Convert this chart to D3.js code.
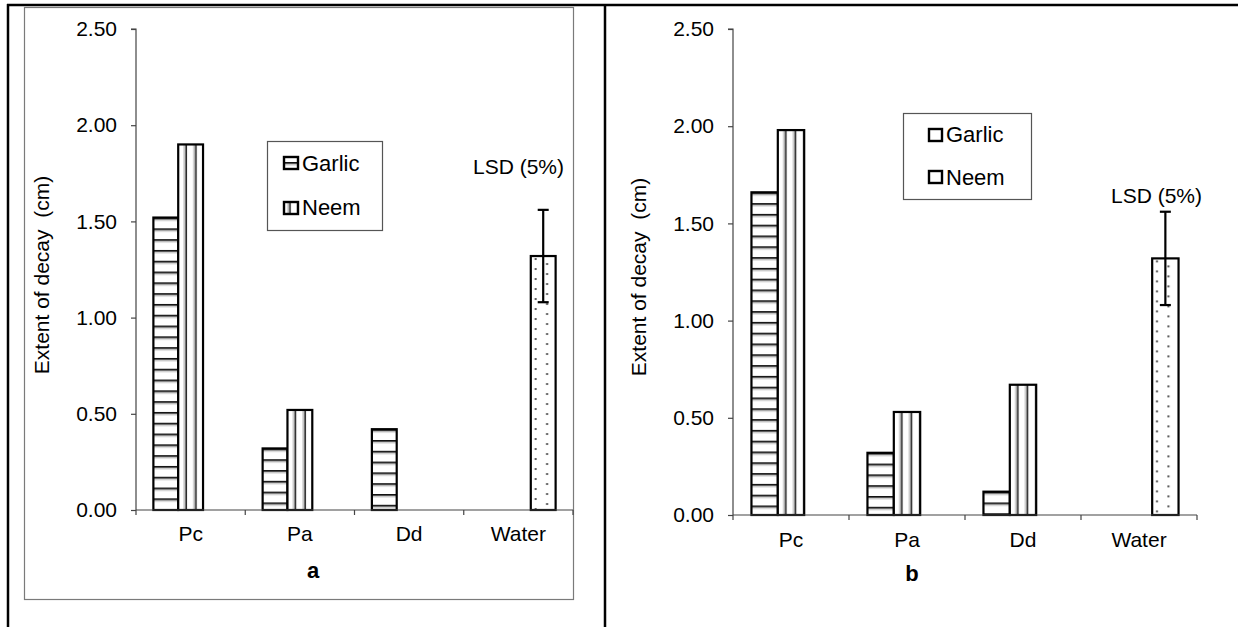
<!DOCTYPE html>
<html>
<head>
<meta charset="utf-8">
<script src="https://cdn.jsdelivr.net/npm/d3@7/dist/d3.min.js"></script>
<style>
  html, body { margin: 0; padding: 0; background: #fff; }
  svg { display: block; }
  text { font-family: "Liberation Sans", Arial, sans-serif; fill: #000; }
</style>
</head>
<body>
<svg id="chart" width="1238" height="627"></svg>
<script>
// ---------- data ----------
const categories = ["Pc", "Pa", "Dd", "Water"];
const seriesNames = ["Garlic", "Neem", "Water"];
const legendNames = ["Garlic", "Neem"];
const yTicks = [0, 0.5, 1.0, 1.5, 2.0, 2.5];

const garlicA = [1.52, 0.32, 0.42, null];
const neemA   = [1.90, 0.52, null, null];
const waterA  = [null, null, null, 1.32];
const lsdA = 0.24;

const garlicB = [1.66, 0.32, 0.12, null];
const neemB   = [1.98, 0.53, 0.67, null];
const waterB  = [null, null, null, 1.32];
const lsdB = 0.24;

const panelLabels = ["a", "b"];
const yTitle = "Extent of decay  (cm)";
const lsdLabel = "LSD (5%)";

// ---------- layout ----------
const panels = [
  { id: "a", series: [garlicA, neemA, waterA], lsd: lsdA, label: panelLabels[0],
    x0: 136, x1: 573, y0: 510, y1: 29, yTitleX: 41.5, yTitleY: 275,
    catDy: 31, labelX: 313, labelY: 578, lsdX: 473, lsdY: 174,
    frame: { x: 24, y: 7, w: 549, h: 592 },
    legend: { x: 267, y: 141, w: 115, h: 89, mx: 284, my: [157, 202], mw: 14, mh: 12, tx: 302, ty: [171, 215], hatch: true } },
  { id: "b", series: [garlicB, neemB, waterB], lsd: lsdB, label: panelLabels[1],
    x0: 733, x1: 1197, y0: 515, y1: 29, yTitleX: 638, yTitleY: 277,
    catDy: 32, labelX: 912, labelY: 581, lsdX: 1111, lsdY: 203,
    frame: null,
    legend: { x: 903, y: 113, w: 128, h: 86, mx: 929, my: [129, 171], mw: 13, mh: 12, tx: 946, ty: [142, 185], hatch: false } }
];

const svg = d3.select("#chart");
const defs = svg.append("defs");

function makePattern(id, kind, x, y) {
  const p = defs.append("pattern").attr("id", id).attr("patternUnits", "userSpaceOnUse");
  if (kind === "h") {
    p.attr("x", x).attr("y", y).attr("width", 10).attr("height", 10.8);
    p.append("rect").attr("width", 10).attr("height", 10.8).attr("fill", "#fff");
    p.append("rect").attr("y", 0).attr("width", 10).attr("height", 1.8).attr("fill", "#111");
    p.append("rect").attr("y", 1.8).attr("width", 10).attr("height", 1.6).attr("fill", "#c8c8c8");
  } else if (kind === "v") {
    p.attr("x", x).attr("y", y).attr("width", 9.7).attr("height", 10);
    p.append("rect").attr("width", 9.7).attr("height", 10).attr("fill", "#fff");
    p.append("rect").attr("x", 5.2).attr("width", 2).attr("height", 10).attr("fill", "#c8c8c8");
    p.append("rect").attr("x", 7.2).attr("width", 1.6).attr("height", 10).attr("fill", "#222");
  } else {
    p.attr("x", x).attr("y", y).attr("width", 23).attr("height", 10);
    p.append("rect").attr("width", 23).attr("height", 10).attr("fill", "#fff");
    p.append("rect").attr("x", 3.8).attr("y", 2).attr("width", 2).attr("height", 2).attr("fill", "#555");
    p.append("rect").attr("x", 15.3).attr("y", 7).attr("width", 2).attr("height", 2).attr("fill", "#555");
  }
  return `url(#${id})`;
}
const kinds = ["h", "v", "d"];

// ---------- outer table borders ----------
const border = svg.append("g").attr("stroke", "#000").attr("stroke-width", 2.5);
border.append("line").attr("x1", 7).attr("x2", 1238).attr("y1", 5).attr("y2", 5);
border.append("line").attr("x1", 8).attr("x2", 8).attr("y1", 4).attr("y2", 627);
border.append("line").attr("x1", 605).attr("x2", 605).attr("y1", 4).attr("y2", 627);

panels.forEach(P => {
  const g = svg.append("g");
  if (P.frame) {
    g.append("rect").attr("x", P.frame.x + 0.5).attr("y", P.frame.y + 0.5)
      .attr("width", P.frame.w).attr("height", P.frame.h)
      .attr("fill", "none").attr("stroke", "#7a7a7a").attr("stroke-width", 1.2);
  }

  const x = d3.scaleBand().domain(categories).range([P.x0, P.x1]).paddingInner(0).paddingOuter(0);
  const xs = d3.scaleBand().domain(seriesNames).range([0, x.bandwidth()]).paddingInner(0).paddingOuter(0.7);
  const y = d3.scaleLinear().domain([0, 2.5]).range([P.y0, P.y1]);

  // bars
  P.series.forEach((vals, si) => {
    vals.forEach((v, ci) => {
      if (v === null) return;
      const bx = x(categories[ci]) + xs(seriesNames[si]);
      const by = y(v);
      const fill = makePattern(`p-${P.id}-${si}-${ci}`, kinds[si], bx, by);
      g.append("rect")
        .attr("x", bx).attr("y", by)
        .attr("width", xs.bandwidth()).attr("height", y(0) - by)
        .attr("fill", fill).attr("stroke", "#000").attr("stroke-width", 2.2);
    });
  });

  // y axis
  const yAxis = d3.axisLeft(y).tickValues(yTicks).tickFormat(d3.format(".2f")).tickSize(5).tickPadding(14);
  const ya = g.append("g").attr("transform", `translate(${P.x0},0)`).call(yAxis);
  ya.select(".domain").attr("stroke", "#444").attr("stroke-width", 1.2).attr("d", `M-5,${y(2.5)}H0V${y(0)}`);
  ya.selectAll(".tick line").attr("stroke", "#444").attr("stroke-width", 1.2);
  ya.selectAll(".tick text").attr("font-size", 21).attr("font-family", "'Liberation Sans', Arial, sans-serif").attr("fill", "#000");

  // x axis
  const xAxis = d3.axisBottom(x).tickSize(0).tickPadding(P.catDy - 15);
  const xa = g.append("g").attr("transform", `translate(0,${P.y0})`).call(xAxis);
  xa.select(".domain").attr("stroke", "#444").attr("stroke-width", 1.2).attr("d", `M${P.x0},0H${P.x1}`);
  xa.selectAll(".tick text").attr("font-size", 21).attr("font-family", "'Liberation Sans', Arial, sans-serif").attr("fill", "#000");
  const bounds = categories.map(c => x(c)).concat([x(categories[categories.length - 1]) + x.bandwidth()]);
  xa.selectAll(".sep").data(bounds).join("line").attr("class", "sep")
    .attr("x1", d => d).attr("x2", d => d).attr("y1", 0).attr("y2", 5)
    .attr("stroke", "#444").attr("stroke-width", 1.2);

  // error bar (LSD) on water bar
  const wIdx = categories.indexOf("Water");
  const wVal = P.series[2][wIdx];
  const cx = x("Water") + xs("Water") + xs.bandwidth() / 2;
  const eb = g.append("g").attr("stroke", "#000").attr("stroke-width", 2.2);
  eb.append("line").attr("x1", cx).attr("x2", cx).attr("y1", y(wVal + P.lsd)).attr("y2", y(wVal - P.lsd));
  eb.append("line").attr("x1", cx - 5.5).attr("x2", cx + 5.5).attr("y1", y(wVal + P.lsd)).attr("y2", y(wVal + P.lsd));
  eb.append("line").attr("x1", cx - 5.5).attr("x2", cx + 5.5).attr("y1", y(wVal - P.lsd)).attr("y2", y(wVal - P.lsd));

  g.append("text").attr("x", P.lsdX).attr("y", P.lsdY).attr("font-size", 21).text(lsdLabel);

  // y title
  g.append("text")
    .attr("transform", `translate(${P.yTitleX},${P.yTitleY}) rotate(-90)`)
    .attr("text-anchor", "middle").attr("dominant-baseline", "central")
    .attr("font-size", 21).attr("xml:space", "preserve").style("white-space", "pre")
    .text(yTitle);

  // panel label
  g.append("text").attr("x", P.labelX).attr("y", P.labelY).attr("text-anchor", "middle")
    .attr("font-size", 22).attr("font-weight", "bold").text(P.label);

  // legend
  const L = P.legend;
  const lg = g.append("g");
  lg.append("rect").attr("x", L.x + 0.5).attr("y", L.y + 0.5).attr("width", L.w).attr("height", L.h)
    .attr("fill", "#fff").attr("stroke", "#555").attr("stroke-width", 1.2);
  legendNames.forEach((name, i) => {
    let fill = "#fff";
    if (L.hatch) fill = makePattern(`lg-${P.id}-${i}`, kinds[i], L.mx + (i === 0 ? 0 : -2), L.my[i] + (i === 0 ? 5 : 0));
    lg.append("rect").attr("x", L.mx).attr("y", L.my[i]).attr("width", L.mw).attr("height", L.mh)
      .attr("fill", fill).attr("stroke", "#000").attr("stroke-width", 2.4);
    lg.append("text").attr("x", L.tx).attr("y", L.ty[i]).attr("font-size", 22).text(name);
  });
});
</script>
</body>
</html>
